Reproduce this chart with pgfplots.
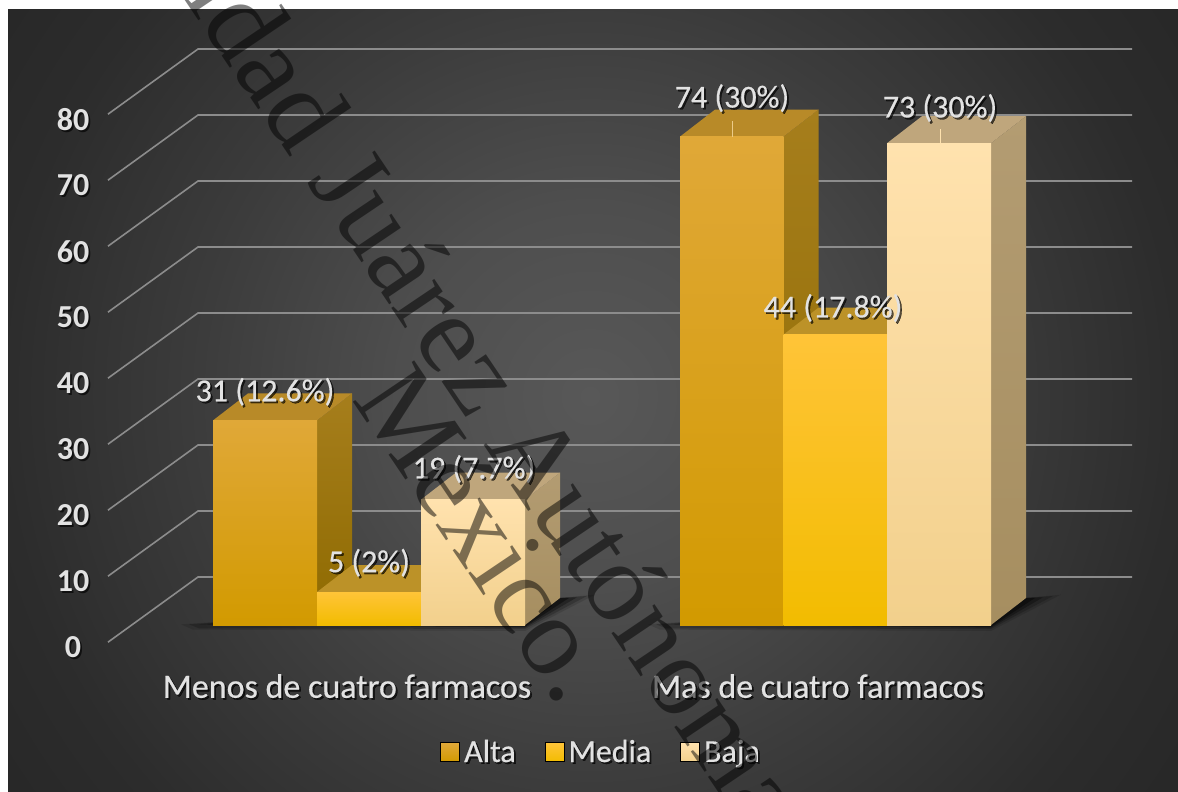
\documentclass[border=0pt]{standalone}
\usepackage{pgfplots}
\pgfplotsset{compat=1.18}
\usepackage{fontspec}
\setmainfont{Carlito}
\newfontfamily\stampfont{Liberation Serif}
\newfontfamily\heavylabel[BoldFont=Carlito,BoldFeatures={FakeBold=0.5}]{Carlito}

\definecolor{labelgrey}{HTML}{E2E2E2}
\definecolor{bgA}{HTML}{585858}
\definecolor{bgB}{HTML}{4E4E4E}
\definecolor{bgC}{HTML}{3C3C3C}
\definecolor{bgD}{HTML}{2C2C2C}
\definecolor{bgE}{HTML}{272727}
\definecolor{gridgrey}{HTML}{8C8C8C}

\definecolor{altaF}{HTML}{E0A838}\definecolor{altaG}{HTML}{D29A00}
\definecolor{altaS}{HTML}{A67E1C}\definecolor{altaR}{HTML}{8E6A00}
\definecolor{altaT}{HTML}{B88A28}
\definecolor{mediaF}{HTML}{FFC438}\definecolor{mediaG}{HTML}{F2BC00}
\definecolor{mediaS}{HTML}{A67E1C}\definecolor{mediaR}{HTML}{8E6A00}
\definecolor{mediaT}{HTML}{BC9228}
\definecolor{bajaF}{HTML}{FFE2AE}\definecolor{bajaG}{HTML}{F2D08C}
\definecolor{bajaS}{HTML}{B39C72}\definecolor{bajaR}{HTML}{A68E60}
\definecolor{bajaT}{HTML}{BFA67C}

\pgfdeclareradialshading{chartback}{\pgfpoint{0bp}{0bp}}{%
  color(0bp)=(bgA); color(8bp)=(bgB); color(16.3bp)=(bgC); color(24.6bp)=(bgD); color(30bp)=(bgE); color(60bp)=(bgE)}

% text with a small dark drop shadow
\newcommand{\shadowed}[1]{\leavevmode\rlap{\hspace{0.9pt}\raisebox{-0.9pt}{\pgfsetfillopacity{0.65}\color{black}#1\pgfsetfillopacity{1}}}#1}

% one 3D column: x from, x to, value, colour prefix
\newcommand{\column}[4]{%
  \addplot[forget plot,draw=none,top color=#4S,bottom color=#4R] coordinates
    {(#2,0) ({#2+35},4.09) ({#2+35},{#3+4.09}) (#2,#3)} -- cycle;
  \addplot[forget plot,draw=none,fill=#4T] coordinates
    {(#1,#3) (#2,#3) ({#2+35},{#3+4.09}) ({#1+35},{#3+4.09})} -- cycle;
  \addplot[forget plot,draw=none,top color=#4F,bottom color=#4G] coordinates
    {(#1,0) (#2,0) (#2,#3) (#1,#3)} -- cycle;
}
% soft contact shadow on the floor of a group of columns, built up in layers
\newcommand{\floorshadow}[2]{%
  \addplot[forget plot,draw=none,fill=black,opacity=0.12] coordinates
    {({#1-32},0.1) ({#1-20},-0.7) (#2,-0.9) ({#2+70},4.6) ({#2+35},4.1)} -- cycle;
  \addplot[forget plot,draw=none,fill=black,opacity=0.20] coordinates
    {({#1-24},0.1) ({#1-14},-0.5) (#2,-0.6) ({#2+62},4.4) ({#2+35},4.1)} -- cycle;
  \addplot[forget plot,draw=none,fill=black,opacity=0.30] coordinates
    {({#1-14},0.1) (#2,-0.4) ({#2+52},4.2) ({#2+35},4.1)} -- cycle;
  \addplot[forget plot,draw=none,fill=black,opacity=0.40] coordinates
    {({#1-6},0.1) (#2,-0.25) ({#2+44},4.1) ({#2+35},4.1)} -- cycle;
}
% one gridline: from the front edge of the floor to the back wall and across it
\newcommand{\wallline}[1]{%
  \addplot[forget plot,gridgrey,line width=0.8pt] coordinates
    {(108,{#1-2.6}) (198,{#1+7.27}) (1132,{#1+7.27})};
}
\newcommand{\vallabel}[3]{\node[text=labelgrey,font=\heavylabel\bfseries\fontsize{16}{19}\selectfont] at (axis cs:#1,#2) {\shadowed{#3}};}
\newcommand{\keyswatch}[2]{\addlegendimage{legend image code/.code={\shade[top color=#1,bottom color=#2] (0pt,-4.75pt) rectangle (9.5pt,4.75pt);}}}

\begin{document}
\begin{tikzpicture}
  \useasboundingbox (0,0) rectangle (589pt,396pt);
  \begin{scope}
    \clip (4pt,0pt) rectangle (589pt,391pt);
    \shade[shading=chartback] (-5pt,-102pt) rectangle (595pt,498pt);
  \end{scope}
  \begin{axis}[
    at={(0pt,0pt)},anchor=south west,
    scale only axis,width=589pt,height=396pt,
    xmin=0,xmax=1178,ymin=-25.30,ymax=94.70,
    clip=false,no markers,
    axis line style={draw=none},major tick length=0pt,
    tick label style={text=labelgrey},
    xtick={347,818},
    xticklabels={\shadowed{Menos de cuatro farmacos},\shadowed{Mas de cuatro farmacos}},
    xticklabel style={anchor=center,yshift=52.5pt,font=\heavylabel\bfseries\fontsize{17}{20}\selectfont},
    ytick={0,10,20,30,40,50,60,70,80},
    yticklabel={\shadowed{\pgfmathprintnumber[assume math mode=true]{\tick}}},
    yticklabel style={anchor=center,xshift=36.5pt,yshift=-11.75pt,font=\fontsize{16}{19}\selectfont\bfseries},
    legend columns=-1,
    legend style={at={(axis cs:440,-19.3)},anchor=west,draw=none,fill=none,text=labelgrey,
      font=\heavylabel\bfseries\fontsize{16}{19}\selectfont,inner sep=0pt,
      /tikz/every even column/.append style={column sep=12.5pt}},
  ]
    % back wall and floor lines
    \wallline{0}\wallline{10}\wallline{20}\wallline{30}\wallline{40}
    \wallline{50}\wallline{60}\wallline{70}\wallline{80}
    \floorshadow{213}{525}
    \floorshadow{680}{991}

    % Menos de cuatro farmacos
    \column{213}{317}{31}{alta}
    \column{317}{421}{5}{media}
    \column{421}{525}{19}{baja}
    % Mas de cuatro farmacos
    \column{680}{783.5}{74}{alta}
    \column{783.5}{887}{44}{media}
    \column{887}{991}{73}{baja}

    % leader lines of the two tallest labels
    \addplot[forget plot,draw=altaF!60!white,line width=0.5pt] coordinates {(732,74) (732,76.4)};
    \addplot[forget plot,draw=bajaF,line width=0.5pt] coordinates {(940,73) (940,75.2)};

    \vallabel{265}{35.2}{31 (12.6\%)}
    \vallabel{369}{9.3}{5 (2\%)}
    \vallabel{474}{23.5}{19 (7.7\%)}
    \vallabel{732}{79.7}{74 (30\%)}
    \vallabel{833}{47.9}{44 (17.8\%)}
    \vallabel{940}{78.2}{73 (30\%)}

    \keyswatch{altaF}{altaG}\addlegendentry{\shadowed{Alta}}
    \keyswatch{mediaF}{mediaG}\addlegendentry{\shadowed{Media}}
    \keyswatch{bajaF}{bajaG}\addlegendentry{\shadowed{Baja}}
  \end{axis}
  % institutional stamp laid diagonally over the chart
  \begin{scope}
    \clip (0,0) rectangle (589pt,396pt);
    \begin{scope}[every node/.style={inner sep=0pt,text opacity=0.5,text=black,
        font=\stampfont\fontsize{56.5}{68}\selectfont,rotate=-56}]
      \node[anchor=base west] at (-9.1pt,546.1pt) {Universidad Juárez Autónoma de Tabasco};
      \node[anchor=base west] at (175.5pt,196.5pt) {México.};
    \end{scope}
  \end{scope}
\end{tikzpicture}
\end{document}
